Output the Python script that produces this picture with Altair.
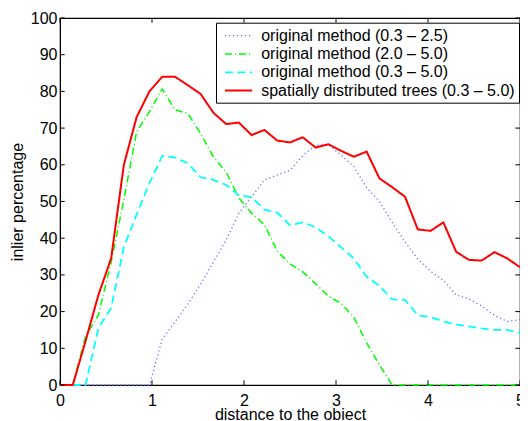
import altair as alt
import pandas as pd

# sample positions (distance to the object)
dist = [0.000, 0.139, 0.278, 0.417, 0.556, 0.694, 0.833, 0.972, 1.111, 1.250,
        1.389, 1.528, 1.667, 1.806, 1.944, 2.083, 2.222, 2.361, 2.500, 2.639,
        2.778, 2.917, 3.056, 3.194, 3.333, 3.472, 3.611, 3.750, 3.889, 4.028,
        4.167, 4.306, 4.444, 4.583, 4.722, 4.861, 5.000]

orig_03_25 = [0, 0, 0, 0, 0, 0, 0, 0, 12.5, 17.2,
              22, 27.5, 33.5, 39.5, 46.8, 51.3, 55.9, 57.2, 58.5, 62.5,
              65.3, 65.5, 62.6, 59.5, 53.8, 50, 44.3, 39, 34.3, 31,
              28.5, 24.5, 23.5, 21.5, 19, 17.3, 17.8]

orig_20_50 = [0, 0, 13.3, 19, 33.5, 50.5, 69, 74.5, 80.6, 75,
              74, 68.5, 62.2, 58, 51, 46.8, 43.7, 36.5, 33, 30.8,
              27.6, 24.2, 22.2, 18.5, 11.5, 5.5, 0, 0, 0, 0,
              0, 0, 0, 0, 0, 0, 0]

orig_03_50 = [0, 0, 0, 15.5, 21, 37.5, 46.5, 55, 62.4, 62,
              60.4, 56.6, 55.9, 54.5, 51.7, 51.2, 47.8, 47, 43.5, 44.3,
              43, 40.5, 37.5, 34.5, 29.5, 27, 23.3, 23.2, 19, 18.5,
              17.3, 16.5, 16, 15.4, 15, 15, 14.2]

spatial_03_50 = [0, 0, 12, 24.5, 34.5, 60, 73, 80, 84, 84,
                 81.7, 79.3, 74.2, 71.1, 71.5, 68.1, 69.5, 66.6, 66.1, 67.5,
                 64.7, 65.6, 63.8, 62.2, 63.6, 56.3, 53.9, 51.3, 42.4, 42.0,
                 44.3, 36.3, 34.1, 33.9, 36.2, 34.5, 32.1]

series_names = ["original method (0.3 \u2013 2.5)",
                "original method (2.0 \u2013 5.0)",
                "original method (0.3 \u2013 5.0)",
                "spatially distributed trees (0.3 \u2013 5.0)"]
series_values = [orig_03_25, orig_20_50, orig_03_50, spatial_03_50]
series_colors = ["#6b6bff", "#00ff00", "#00ffff", "#ff0000"]
series_dash = [[1.2, 2.8], [7, 3, 1, 3], [8, 4.5], [1, 0]]
series_width = [1.3, 2, 2.5, 2]

x_ticks = [0, 1, 2, 3, 4, 5]
y_ticks = [0, 10, 20, 30, 40, 50, 60, 70, 80, 90, 100]

rows = []
for k, (name, vals) in enumerate(zip(series_names, series_values)):
    for d, v in zip(dist, vals):
        rows.append({"series": name, "order": k, "dist": d, "pct": v})
df = pd.DataFrame(rows)

W, H = 460, 367
TL = 4.7
FONT = "Liberation Sans"
FS = 16

xscale = alt.Scale(domain=[0, 5], nice=False, zero=False)
yscale = alt.Scale(domain=[0, 100], nice=False)

x_axis = alt.Axis(values=x_ticks, title="distance to the object", ticks=False,
                  tickSize=0, labelPadding=7, labelFlush=False, grid=False,
                  labelOverlap=False,
                  domainColor="black", labelColor="black", titleColor="black",
                  labelFont=FONT, labelFontSize=FS, titleFont=FONT,
                  titleFontSize=FS, titleFontWeight="normal",
                  titleY=34, titleBaseline="alphabetic", format="d")
y_axis = alt.Axis(values=y_ticks, title="inlier percentage", ticks=False,
                  tickSize=0, labelPadding=3, labelFlush=False, grid=False,
                  labelOverlap=False,
                  domainColor="black", labelColor="black", titleColor="black",
                  labelFont=FONT, labelFontSize=FS, titleFont=FONT,
                  titleFontSize=FS, titleFontWeight="normal",
                  titleX=-38, titleY=H / 2, titleBaseline="alphabetic",
                  titleAngle=270)

lines = alt.Chart(df).mark_line().encode(
    x=alt.X("dist:Q", scale=xscale, axis=x_axis),
    y=alt.Y("pct:Q", scale=yscale, axis=y_axis),
    color=alt.Color("series:N",
                    scale=alt.Scale(domain=series_names, range=series_colors),
                    legend=alt.Legend(orient="none", legendX=156, legendY=4.7, title=None,
                                      symbolType="M-1.7,0H1.7", symbolSize=256,
                                      symbolStrokeWidth=2, labelFont=FONT,
                                      labelFontSize=FS, labelColor="black",
                                      padding=4, symbolOffset=9.6, labelOffset=13.6,
                                      rowPadding=1.3, labelLimit=400,
                                      strokeColor="black", fillColor="white")),
    strokeDash=alt.StrokeDash("series:N",
                              scale=alt.Scale(domain=series_names, range=series_dash),
                              legend=alt.Legend(orient="none", legendX=156, legendY=4.7,
                                                title=None)),
    strokeWidth=alt.StrokeWidth("series:N",
                                scale=alt.Scale(domain=series_names, range=series_width),
                                legend=None),
    order="order:Q",
)

xt = pd.DataFrame({"v": x_ticks})
yt = pd.DataFrame({"v": y_ticks})

bottom_ticks = alt.Chart(xt).mark_rule(color="black", strokeWidth=1).encode(
    x=alt.X("v:Q", scale=xscale, axis=x_axis), y=alt.value(H), y2=alt.value(H - TL))
top_ticks = alt.Chart(xt).mark_rule(color="black", strokeWidth=1).encode(
    x=alt.X("v:Q", scale=xscale, axis=x_axis), y=alt.value(0), y2=alt.value(TL))
left_ticks = alt.Chart(yt).mark_rule(color="black", strokeWidth=1).encode(
    y=alt.Y("v:Q", scale=yscale, axis=y_axis), x=alt.value(0), x2=alt.value(TL))
right_ticks = alt.Chart(yt).mark_rule(color="black", strokeWidth=1).encode(
    y=alt.Y("v:Q", scale=yscale, axis=y_axis), x=alt.value(W), x2=alt.value(W - TL))

chart = alt.layer(lines, bottom_ticks, top_ticks, left_ticks, right_ticks).properties(
    width=W, height=H,
    autosize=alt.AutoSizeParams(type="none"),
    padding={"left": 52, "top": 10, "right": 0, "bottom": 35},
    background="white",
).configure_view(stroke="black", strokeWidth=1.2)

chart.save("out.html", embed_options={"renderer": "svg", "actions": False})
